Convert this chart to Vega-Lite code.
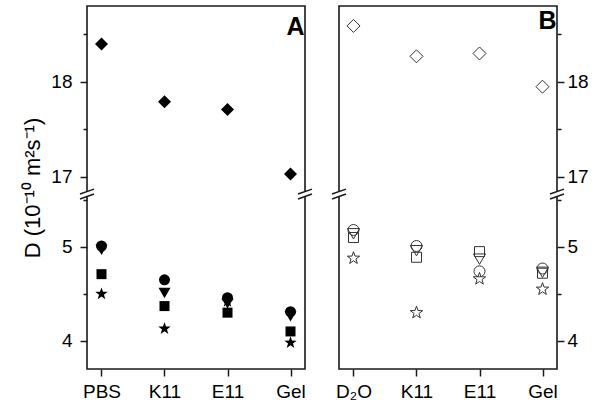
{
  "$schema": "https://vega.github.io/schema/vega-lite/v6.json",
  "background": "white",
  "padding": {"left": 21, "top": 5, "right": 5, "bottom": 5},
  "bounds": "flush",
  "spacing": 34,
  "config": {
    "view": {"stroke": "#1a1a1a", "strokeWidth": 1.6},
    "font": "Liberation Sans",
    "axis": {"labelFont": "Liberation Sans", "titleFont": "Liberation Sans", "labelColor": "#000", "titleColor": "#000", "tickColor": "#1a1a1a", "tickWidth": 1.5, "domain": false, "grid": false}
  },
  "datasets": {
    "a": [
      {"cat": "PBS", "series": "diamond", "D": 18.4},
      {"cat": "PBS", "series": "triangle", "D": 4.97},
      {"cat": "PBS", "series": "circle", "D": 5.01},
      {"cat": "PBS", "series": "square", "D": 4.71},
      {"cat": "PBS", "series": "star", "D": 4.5},
      {"cat": "K11", "series": "diamond", "D": 17.79},
      {"cat": "K11", "series": "triangle", "D": 4.51},
      {"cat": "K11", "series": "circle", "D": 4.65},
      {"cat": "K11", "series": "square", "D": 4.37},
      {"cat": "K11", "series": "star", "D": 4.13},
      {"cat": "E11", "series": "diamond", "D": 17.71},
      {"cat": "E11", "series": "triangle", "D": 4.4},
      {"cat": "E11", "series": "circle", "D": 4.46},
      {"cat": "E11", "series": "square", "D": 4.3},
      {"cat": "E11", "series": "star", "D": 4.42},
      {"cat": "Gel", "series": "diamond", "D": 17.03},
      {"cat": "Gel", "series": "triangle", "D": 4.26},
      {"cat": "Gel", "series": "circle", "D": 4.31},
      {"cat": "Gel", "series": "square", "D": 4.1},
      {"cat": "Gel", "series": "star", "D": 3.98}
    ],
    "b": [
      {"cat": "D₂O", "series": "diamond", "D": 18.59},
      {"cat": "D₂O", "series": "triangle", "D": 5.14},
      {"cat": "D₂O", "series": "circle", "D": 5.18},
      {"cat": "D₂O", "series": "square", "D": 5.1},
      {"cat": "D₂O", "series": "star", "D": 4.88},
      {"cat": "K11", "series": "diamond", "D": 18.27},
      {"cat": "K11", "series": "triangle", "D": 4.96},
      {"cat": "K11", "series": "circle", "D": 5.01},
      {"cat": "K11", "series": "square", "D": 4.89},
      {"cat": "K11", "series": "star", "D": 4.3},
      {"cat": "E11", "series": "diamond", "D": 18.3},
      {"cat": "E11", "series": "triangle", "D": 4.87},
      {"cat": "E11", "series": "circle", "D": 4.74},
      {"cat": "E11", "series": "square", "D": 4.95},
      {"cat": "E11", "series": "star", "D": 4.66},
      {"cat": "Gel", "series": "diamond", "D": 17.95},
      {"cat": "Gel", "series": "triangle", "D": 4.73},
      {"cat": "Gel", "series": "circle", "D": 4.77},
      {"cat": "Gel", "series": "square", "D": 4.72},
      {"cat": "Gel", "series": "star", "D": 4.55}
    ],
    "brk": [{"v": 11}]
  },
  "hconcat": [
    {
      "width": 218,
      "height": 363,
      "layer": [
        {
          "data": {"name": "a"},
          "mark": {"type": "point", "filled": true, "color": "#000", "opacity": 1},
          "encoding": {
            "x": {"field": "cat", "type": "nominal", "sort": ["PBS", "K11", "E11", "Gel"], "scale": {"type": "point", "padding": 0.23},
              "axis": {"title": null, "labelAngle": 0, "labelFontSize": 19, "labelPadding": 6, "tickSize": 7}},
            "y": {"field": "D", "type": "quantitative",
              "scale": {"domain": [3.7, 5.553, 16.83, 18.8], "range": [363, 189, 187, 0], "zero": false, "nice": false},
              "axis": {"orient": "left", "values": [4, 4.5, 5, 5.5, 17, 17.5, 18, 18.5],
                "labelExpr": "datum.value % 1 === 0 ? datum.label : ''",
                "tickSize": {"condition": {"test": "datum.value % 1 === 0", "value": 7}, "value": 4},
                "labelFontSize": 19, "labelPadding": 8,
                "title": "D (10⁻¹⁰ m²s⁻¹)", "titleFontSize": 22, "titleFontWeight": "normal", "titlePadding": 6}},
            "shape": {"field": "series", "type": "nominal", "legend": null,
              "scale": {"domain": ["diamond", "triangle", "circle", "square", "star"],
                "range": ["diamond", "triangle-down", "circle", "square", "M0,-1 L0.235,-0.324 L0.951,-0.309 L0.38,0.124 L0.588,0.809 L0,0.4 L-0.588,0.809 L-0.38,0.124 L-0.951,-0.309 L-0.235,-0.324 Z"]}},
            "size": {"field": "series", "type": "nominal", "legend": null,
              "scale": {"type": "ordinal", "domain": ["diamond", "triangle", "circle", "square", "star"], "range": [169, 144, 121, 100, 169]}}
          }
        },
        {
          "data": {"name": "brk"},
          "mark": {"type": "point", "shape": "M -0.3 -0.245 L 0.3 -0.455 L 0.3 0.245 L -0.3 0.455 Z", "filled": true, "color": "white", "opacity": 1, "size": 196},
          "encoding": {"y": {"field": "v", "type": "quantitative"}, "x": {"value": 0}}
        },
        {
          "data": {"name": "brk"},
          "mark": {"type": "point", "shape": "M -1 0 L 1 -0.7 M -1 0.7 L 1 0", "filled": false, "color": "#1a1a1a", "strokeWidth": 1.5, "opacity": 1, "size": 196},
          "encoding": {"y": {"field": "v", "type": "quantitative"}, "x": {"value": 0}}
        },
        {
          "data": {"name": "brk"},
          "mark": {"type": "point", "shape": "M -0.3 -0.245 L 0.3 -0.455 L 0.3 0.245 L -0.3 0.455 Z", "filled": true, "color": "white", "opacity": 1, "size": 196},
          "encoding": {"y": {"field": "v", "type": "quantitative"}, "x": {"value": 218}}
        },
        {
          "data": {"name": "brk"},
          "mark": {"type": "point", "shape": "M -1 0 L 1 -0.7 M -1 0.7 L 1 0", "filled": false, "color": "#1a1a1a", "strokeWidth": 1.5, "opacity": 1, "size": 196},
          "encoding": {"y": {"field": "v", "type": "quantitative"}, "x": {"value": 218}}
        },
        {
          "data": {"values": [{}]},
          "mark": {"type": "text", "text": "A", "fontSize": 25, "fontWeight": "bold", "font": "Liberation Sans", "color": "#000", "align": "center", "baseline": "middle", "dx": 5},
          "encoding": {"x": {"datum": "Gel"}, "y": {"datum": 18.58}}
        }
      ]
    },
    {
      "width": 218,
      "height": 363,
      "layer": [
        {
          "data": {"name": "b"},
          "mark": {"type": "point", "filled": false, "color": "#333", "strokeWidth": 1, "opacity": 1},
          "encoding": {
            "x": {"field": "cat", "type": "nominal", "sort": ["D₂O", "K11", "E11", "Gel"], "scale": {"type": "point", "padding": 0.23},
              "axis": {"title": null, "labelAngle": 0, "labelFontSize": 19, "labelPadding": 6, "tickSize": 7}},
            "y": {"field": "D", "type": "quantitative",
              "scale": {"domain": [3.7, 5.553, 16.83, 18.8], "range": [363, 189, 187, 0], "zero": false, "nice": false},
              "axis": {"orient": "right", "values": [4, 4.5, 5, 5.5, 17, 17.5, 18, 18.5],
                "labelExpr": "datum.value % 1 === 0 ? datum.label : ''",
                "tickSize": {"condition": {"test": "datum.value % 1 === 0", "value": 7}, "value": 4},
                "labelFontSize": 19, "labelPadding": 3, "title": null}},
            "shape": {"field": "series", "type": "nominal", "legend": null,
              "scale": {"domain": ["diamond", "triangle", "circle", "square", "star"],
                "range": ["diamond", "triangle-down", "circle", "square", "M0,-1 L0.235,-0.324 L0.951,-0.309 L0.38,0.124 L0.588,0.809 L0,0.4 L-0.588,0.809 L-0.38,0.124 L-0.951,-0.309 L-0.235,-0.324 Z"]}},
            "size": {"field": "series", "type": "nominal", "legend": null,
              "scale": {"type": "ordinal", "domain": ["diamond", "triangle", "circle", "square", "star"], "range": [169, 144, 121, 100, 169]}}
          }
        },
        {
          "data": {"name": "brk"},
          "mark": {"type": "point", "shape": "M -0.3 -0.245 L 0.3 -0.455 L 0.3 0.245 L -0.3 0.455 Z", "filled": true, "color": "white", "opacity": 1, "size": 196},
          "encoding": {"y": {"field": "v", "type": "quantitative"}, "x": {"value": 0}}
        },
        {
          "data": {"name": "brk"},
          "mark": {"type": "point", "shape": "M -1 0 L 1 -0.7 M -1 0.7 L 1 0", "filled": false, "color": "#1a1a1a", "strokeWidth": 1.5, "opacity": 1, "size": 196},
          "encoding": {"y": {"field": "v", "type": "quantitative"}, "x": {"value": 0}}
        },
        {
          "data": {"name": "brk"},
          "mark": {"type": "point", "shape": "M -0.3 -0.245 L 0.3 -0.455 L 0.3 0.245 L -0.3 0.455 Z", "filled": true, "color": "white", "opacity": 1, "size": 196},
          "encoding": {"y": {"field": "v", "type": "quantitative"}, "x": {"value": 218}}
        },
        {
          "data": {"name": "brk"},
          "mark": {"type": "point", "shape": "M -1 0 L 1 -0.7 M -1 0.7 L 1 0", "filled": false, "color": "#1a1a1a", "strokeWidth": 1.5, "opacity": 1, "size": 196},
          "encoding": {"y": {"field": "v", "type": "quantitative"}, "x": {"value": 218}}
        },
        {
          "data": {"values": [{}]},
          "mark": {"type": "text", "text": "B", "fontSize": 25, "fontWeight": "bold", "font": "Liberation Sans", "color": "#000", "align": "center", "baseline": "middle", "dx": 5},
          "encoding": {"x": {"datum": "Gel"}, "y": {"datum": 18.64}}
        }
      ]
    }
  ]
}
